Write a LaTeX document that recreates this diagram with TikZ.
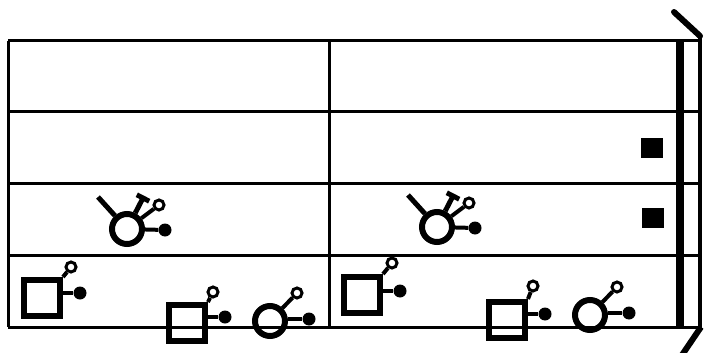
\documentclass[tikz,border=0pt]{standalone}
\usetikzlibrary{calc}
\begin{document}
\begin{tikzpicture}[x=1pt,y=-1pt,
  grid/.style={line width=3pt},
  sqsym/.style={draw,rectangle,line width=6pt,minimum size=36pt,inner sep=0pt},
  csym/.style={draw,circle,line width=6pt,minimum size=30pt,inner sep=0pt},
  opend/.style={draw,circle,line width=3pt,minimum size=10pt,inner sep=0pt,fill=white},
  filled/.style={fill=black,circle,minimum size=13pt,inner sep=0pt},
  stem/.style={line width=4pt},
  stick/.style={line width=5pt},
  blk/.style={fill=black,rectangle,minimum width=22pt,minimum height=20pt,inner sep=0pt}]
\useasboundingbox (0,0) rectangle (704,353);
% grid
\foreach \y in {41,111,183,255,327} \draw[grid] (8,\y) -- (700,\y);
\draw[grid] (8,41) -- (8,327);
\draw[grid] (329,41) -- (329,327);
\draw[line width=4pt] (700,37) -- (700,328);
\draw[line width=8pt] (680,41) -- (680,327);
\draw[line width=6pt,line cap=round] (674,12) -- (700,36);
\draw[line width=6pt] (701,327) -- (682,355);
% filled squares
\node[blk] (b1) at (652,148) {};
\node[blk] (b2) at (653,218) {};
% row 3 symbols
\foreach \n/\cx/\cy in {c1/127/229,c2/437/227}{
  \node[csym] (\n) at (\cx,\cy) {};
  \coordinate (\n l) at (\cx-29,\cy-32);
  \coordinate (\n t) at (\cx+16,\cy-31);
  \node[opend] (\n o) at (\cx+32,\cy-24) {};
  \node[filled] (\n f) at (\cx+38,\cy+1) {};
  \draw[stick] (\n) -- (\n l);
  \draw[stick] (\n) -- (\n t);
  \draw[stick] ($(\n t)!7pt!90:(\n)$) -- ($(\n t)!7pt!-90:(\n)$);
  \draw[stem] (\n) -- (\n o);
  \draw[stem] (\n) -- (\n f);
}
% squares in row 4
\foreach \n/\cx/\cy/\ox/\oy/\fx/\fy in {s1/42/298/71/267/80/293, s2/187/323/213/292/225/317, s3/362/295/392/263/400/291, s4/507/320/533/286/545/314}{
  \node[sqsym] (\n) at (\cx,\cy) {};
  \node[opend] (\n o) at (\ox,\oy) {};
  \node[filled] (\n f) at (\fx,\fy) {};
  \draw[stem] (\n.north east) -- (\n o);
  \draw[stem] (\n.east |- \n f) -- (\n f);
}
% circles in row 4
\foreach \n/\cx/\cy/\ox/\oy/\fx/\fy in {k1/270/321/297/293/309/319, k2/590/315/617/287/629/313}{
  \node[csym] (\n) at (\cx,\cy) {};
  \node[opend] (\n o) at (\ox,\oy) {};
  \node[filled] (\n f) at (\fx,\fy) {};
  \draw[stem] (\n) -- (\n o);
  \draw[stem] (\n.east |- \n f) -- (\n f);
}
\end{tikzpicture}
\end{document}
